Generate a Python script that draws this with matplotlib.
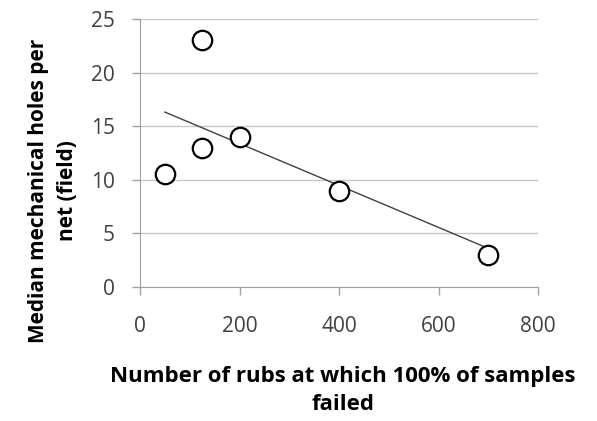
import matplotlib
matplotlib.use("Agg")
from matplotlib import pyplot as plt
import numpy as np

rubs = [50, 125, 125, 200, 400, 700]
holes = [10.5, 23, 13, 14, 9, 3]
x_ticks = [0, 200, 400, 600, 800]
y_ticks = [0, 5, 10, 15, 20, 25]

plt.rcParams["font.family"] = ["Open Sans", "DejaVu Sans"]

fig = plt.figure(figsize=(5.97, 4.21), dpi=100)
ax = fig.add_axes([0.2345, 0.318, 0.6667, 0.637])

# linear trendline like excel
slope, intercept = np.polyfit(rubs, holes, 1)
xs = np.array([min(rubs), max(rubs)])
ax.plot(xs, slope * xs + intercept, color="#404040", linewidth=1, zorder=2)

ax.plot(rubs, holes, linestyle="none", marker="o", markersize=14,
        markerfacecolor="white", markeredgecolor="black", markeredgewidth=1.6, zorder=3)

ax.set_xlim(0, 800)
ax.set_ylim(0, 25)
ax.set_xticks(x_ticks)
ax.set_yticks(y_ticks)
ax.yaxis.grid(True, color="#c8c8c8", linewidth=1)
ax.set_axisbelow(True)
for s in ["top", "right"]:
    ax.spines[s].set_visible(False)
for s in ["left", "bottom"]:
    ax.spines[s].set_color("#a0a0a0")
ax.tick_params(colors="#a0a0a0", labelcolor="#404040", labelsize=15, length=6, width=1)
ax.tick_params(axis="x", pad=15)
ax.tick_params(axis="y", pad=12)

ax.set_xlabel("Number of rubs at which 100% of samples\nfailed", fontsize=16,
              fontweight="bold", linespacing=1.45)
ax.xaxis.set_label_coords(0.51, -0.295)
ax.set_ylabel("Median mechanical holes per\nnet (field)", fontsize=15,
              fontweight="bold", linespacing=1.55)
ax.yaxis.set_label_coords(-0.155, 0.36)

fig.savefig("out.png", dpi=100)
